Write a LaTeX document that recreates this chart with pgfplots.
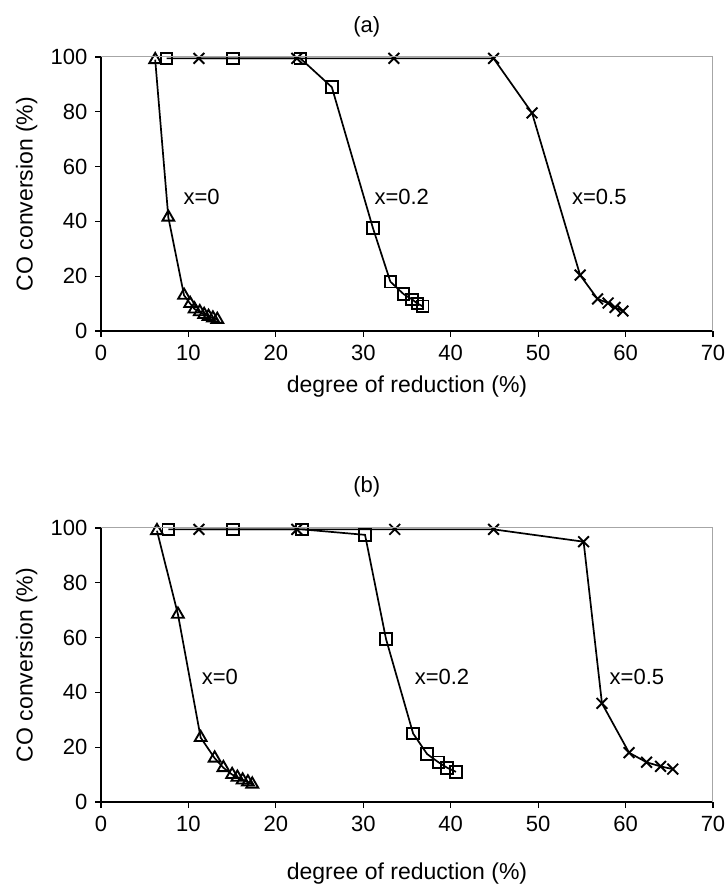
\documentclass[border=0pt]{standalone}
\usepackage{fontspec}
\setmainfont{Liberation Sans}
\usepackage{pgfplots}
\pgfplotsset{compat=1.18}
\begin{document}
\fontsize{11}{13}\selectfont
\begin{tikzpicture}
\useasboundingbox (0pt,0pt) rectangle (364pt,447pt);
\pgfplotsset{
  myax/.style={
    scale only axis, width=306pt, height=137pt,
    xmin=0, xmax=70, ymin=0, ymax=100,
    xtick={0,10,...,70}, ytick={0,20,...,100},
    axis lines*=left, axis line style={-, black, line width=0.8pt},
    tick align=outside, major tick length=3pt,
    tick style={black, line width=0.6pt},
    /pgf/number format/assume math mode=true,
    ticklabel style={font=\fontsize{11}{13}\selectfont},
    label style={font=\fontsize{11.5}{13}\selectfont},
    xlabel={degree of reduction (\%)},
    ylabel={CO conversion (\%)},
    ylabel style={yshift=-1pt},
    clip=false,
    every axis plot/.append style={black, line width=0.85pt, mark options={solid, line width=0.95pt, fill=white}},
    after end axis/.code={\draw[gray!70, line width=0.5pt] (rel axis cs:0,1) -- (rel axis cs:1,1) -- (rel axis cs:1,0);},
  },
  tri/.style={mark=triangle, mark size=3.4pt},
  sq/.style={mark=square, mark size=2.9pt},
  cr/.style={mark=x, mark size=3.8pt},
}
% panel (a)
\begin{axis}[myax, at={(50.5pt,281.5pt)}, anchor=south west, xlabel style={yshift=0pt}]
\addplot[cr] coordinates {(11.2,99.5) (22.4,99.5) (33.5,99.5) (44.9,99.5) (49.3,79.6) (54.8,20.4) (56.8,11.7) (58,10.2) (58.8,8.6) (59.7,7.3)};
\addplot[sq] coordinates {(7.5,99.5) (15.1,99.5) (22.8,99.5) (26.4,89) (31.1,37.6) (33.1,18) (34.6,13.5) (35.6,11.5) (36.2,10) (36.8,9)};
\addplot[tri] coordinates {(6.2,99) (7.7,41.5) (9.5,13) (10.2,10) (10.7,8) (11.3,7) (11.8,6) (12.3,5.3) (12.8,4.7) (13.3,4.2)};
\node at (axis cs:11.5,49) {x=0};
\node at (axis cs:34.4,49) {x=0.2};
\node at (axis cs:57,49) {x=0.5};
\node at (axis cs:30.4,111) {(a)};
\end{axis}
% panel (b)
\begin{axis}[myax, at={(50.5pt,46pt)}, anchor=south west, xlabel style={yshift=-8pt}]
\addplot[cr] coordinates {(11.2,99.5) (22.4,99.5) (33.6,99.5) (44.9,99.5) (55.2,95) (57.3,36) (60.4,18) (62.4,14.5) (64,13) (65.4,12)};
\addplot[sq] coordinates {(7.7,99.5) (15.1,99.5) (23,99.5) (30.2,97.5) (32.6,59.5) (35.7,25) (37.3,17.5) (38.6,14.5) (39.6,12.5) (40.6,11)};
\addplot[tri] coordinates {(6.4,99) (8.8,68.5) (11.4,23.5) (13,16) (14,12.5) (15,10) (15.6,9) (16.2,8) (16.8,7.3) (17.3,6.5)};
\node at (axis cs:13.6,45.5) {x=0};
\node at (axis cs:39,45.5) {x=0.2};
\node at (axis cs:61.3,45.5) {x=0.5};
\node at (axis cs:30.4,115) {(b)};
\end{axis}
\end{tikzpicture}
\end{document}
